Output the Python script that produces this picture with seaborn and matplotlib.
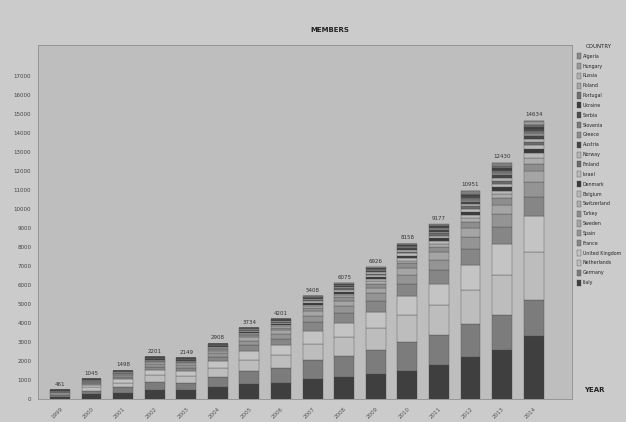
import numpy as np
import pandas as pd
import matplotlib
matplotlib.use('Agg')
import matplotlib.pyplot as plt
import seaborn as sns

# data (members per country per year)
years = [1999, 2000, 2001, 2002, 2003, 2004, 2005, 2006,
         2007, 2008, 2009, 2010, 2011, 2012, 2013, 2014]
totals = [461, 1045, 1498, 2201, 2149, 2908, 3734, 4201,
          5408, 6075, 6926, 8158, 9177, 10951, 12430, 14634]

algeria = [0, 0, 0, 0, 0, 0, 1, 1, 5, 2, 6, 8, 17, 21, 25, 34]
hungary = [0, 0, 0, 0, 0, 0, 1, 2, 5, 5, 8, 10, 10, 30, 50, 60]
russia = [0, 0, 0, 1, 1, 1, 2, 2, 5, 8, 12, 15, 20, 50, 60, 70]
poland = [0, 0, 1, 2, 2, 3, 4, 5, 8, 10, 15, 20, 25, 60, 70, 80]
portugal = [0, 0, 1, 3, 3, 4, 6, 8, 12, 15, 20, 25, 30, 70, 80, 90]
ukraine = [0, 0, 0, 0, 0, 1, 2, 3, 8, 10, 20, 25, 30, 75, 85, 100]
serbia = [0, 0, 1, 1, 1, 2, 4, 5, 10, 20, 25, 30, 35, 85, 95, 110]
slovenia = [0, 0, 2, 3, 3, 5, 8, 10, 20, 25, 30, 35, 40, 90, 100, 120]
greece = [0, 2, 5, 8, 8, 12, 20, 25, 40, 50, 60, 70, 80, 100, 115, 130]
austria = [1, 4, 8, 12, 12, 15, 25, 30, 45, 55, 65, 80, 90, 115, 130, 150]
norway = [2, 7, 12, 18, 18, 25, 35, 40, 55, 65, 75, 90, 100, 125, 140, 160]
finland = [4, 10, 15, 25, 25, 35, 45, 50, 65, 75, 85, 100, 115, 140, 160, 180]
israel = [6, 13, 20, 30, 30, 40, 50, 60, 75, 85, 95, 110, 125, 150, 170, 200]
denmark = [8, 18, 26, 38, 38, 50, 65, 75, 95, 105, 120, 140, 160, 190, 210, 240]
belgium = [7, 16, 24, 35, 35, 45, 55, 65, 80, 90, 100, 120, 140, 160, 170, 250]
switzerland = [9, 20, 28, 40, 40, 55, 70, 80, 100, 115, 130, 150, 170, 200, 220, 300]
turkey = [12, 28, 40, 60, 60, 80, 105, 120, 160, 180, 200, 240, 270, 320, 350, 400]
sweden = [20, 45, 65, 95, 95, 130, 170, 190, 240, 270, 300, 350, 390, 450, 480, 550]
spain = [27, 62, 90, 135, 130, 180, 230, 260, 340, 380, 430, 500, 560, 650, 700, 800]
france = [38, 85, 120, 180, 175, 240, 310, 350, 450, 500, 560, 650, 700, 800, 850, 1000]
uk = [57, 130, 185, 275, 270, 360, 460, 520, 680, 760, 850, 990, 1140, 1340, 1630, 1880]
netherlands = [75, 170, 245, 360, 350, 470, 600, 680, 880, 1000, 1150, 1410, 1550, 1800, 2150, 2550]
germany = [85, 195, 280, 410, 400, 540, 696, 760, 980, 1100, 1280, 1520, 1580, 1730, 1810, 1850]
italy = [110, 240, 330, 470, 453, 615, 770, 860, 1050, 1150, 1290, 1470, 1800, 2200, 2580, 3330]

countries = ['Algeria', 'Hungary', 'Russia', 'Poland', 'Portugal', 'Ukraine',
             'Serbia', 'Slovenia', 'Greece', 'Austria', 'Norway', 'Finland',
             'Israel', 'Denmark', 'Belgium', 'Switzerland', 'Turkey', 'Sweden',
             'Spain', 'France', 'United Kingdom', 'Netherlands', 'Germany', 'Italy']
series = [algeria, hungary, russia, poland, portugal, ukraine, serbia, slovenia,
          greece, austria, norway, finland, israel, denmark, belgium, switzerland,
          turkey, sweden, spain, france, uk, netherlands, germany, italy]

greys = ['#8a8a8a', '#9a9a9a', '#b0b0b0', '#a8a8a8', '#707070', '#3c3c3c',
         '#4a4a4a', '#7a7a7a', '#8c8c8c', '#454545', '#b5b5b5', '#6a6a6a',
         '#bababa', '#3a3a3a', '#b8b8b8', '#adadad', '#8e8e8e', '#a5a5a5',
         '#949494', '#868686', '#c4c4c4', '#bdbdbd', '#7c7c7c', '#3f3f3f']

rows = []
for name, vals in zip(countries, series):
    for y, v in zip(years, vals):
        rows.append({'year': y, 'country': name, 'members': v})
df = pd.DataFrame(rows)

sns.set_style('white')
plt.rcParams['font.family'] = ['DejaVu Sans']

fig = plt.figure(figsize=(6.26, 4.22), dpi=100, facecolor='#cbcbcb')
ax = fig.add_axes([0.061, 0.0545, 0.852, 0.8385])
ax.set_facecolor('#bebebe')

sns.histplot(data=df, x='year', hue='country', weights='members',
             multiple='stack', discrete=True, shrink=0.63,
             hue_order=countries, palette=greys, alpha=1,
             edgecolor='#4a4a4a', linewidth=0.25, ax=ax)

for y, t in zip(years, totals):
    ax.text(y, t + 180, str(t), ha='center', va='bottom', fontsize=4, color='#333333')

ax.set_xlim(1998.31, 2015.2)
ax.set_ylim(0, 18600)
ax.set_yticks(range(0, 18000, 1000))
ax.set_yticklabels([str(v) for v in range(0, 18000, 1000)], fontsize=4, color='#444444')
ax.set_xticks(years)
ax.set_xticklabels([str(y) for y in years], fontsize=4, rotation=45,
                   ha='right', rotation_mode='anchor', color='#555555')
ax.tick_params(axis='both', length=0, pad=5)
ax.set_xlabel('')
ax.set_ylabel('')
for s in ax.spines.values():
    s.set_color('#8f8f8f')
    s.set_linewidth(0.6)

fig.text(0.527, 0.928, 'MEMBERS', ha='center', va='center', fontsize=5,
         fontweight='bold', color='#222222')
fig.text(0.95, 0.075, 'YEAR', ha='center', va='center', fontsize=5,
         fontweight='bold', color='#222222')

sns.move_legend(ax, 'upper left', bbox_to_anchor=(0.921, 0.895),
                bbox_transform=fig.transFigure, title='COUNTRY', frameon=False,
                prop={'family': ['Liberation Sans Narrow', 'DejaVu Sans'], 'size': 3.4},
                title_fontsize=4, labelspacing=0.8, handlelength=1.0,
                handleheight=1.6, handletextpad=0.3, borderpad=0, borderaxespad=0)

fig.savefig('out.png', dpi=100, facecolor=fig.get_facecolor())
